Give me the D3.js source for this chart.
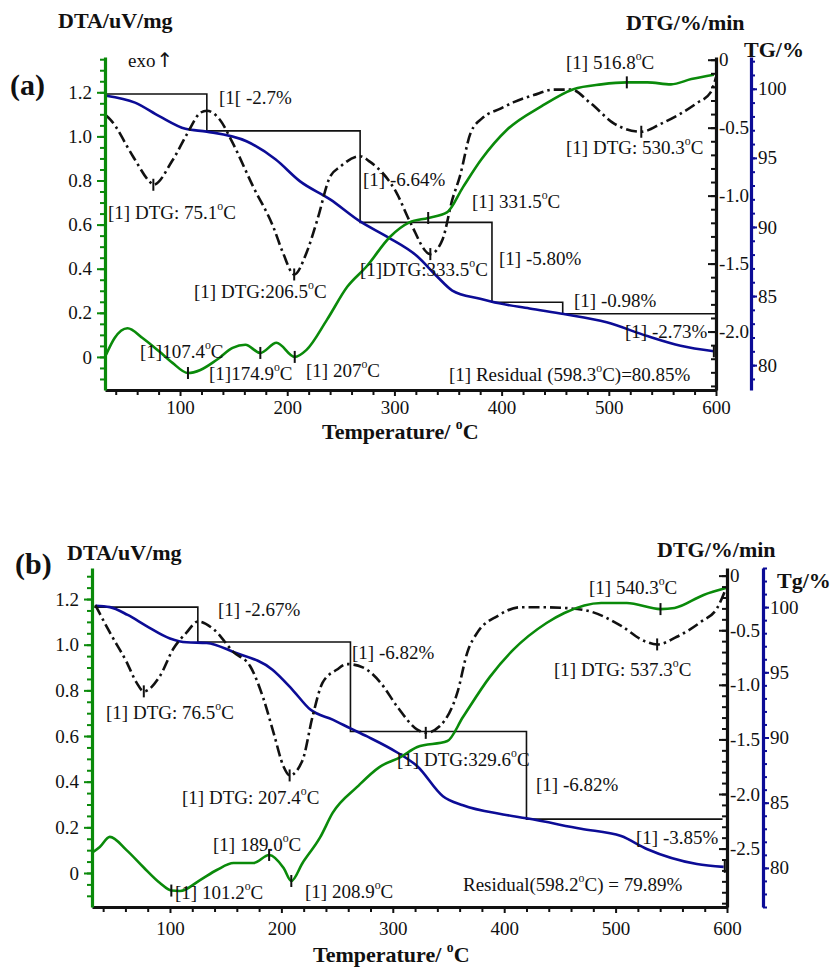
<!DOCTYPE html>
<html>
<head>
<meta charset="utf-8">
<script src="https://cdn.jsdelivr.net/npm/d3@7"></script>
<style>
body { margin: 0; background: #fff; }
svg { display: block; font-family: "Liberation Serif", "Times New Roman", serif; }
</style>
</head>
<body>
<svg width="834" height="969"></svg>
<script>
// ---- panel (a) data ----
var tgTempA = [31, 58, 81, 105, 125, 162, 189, 212, 240, 268, 293, 321, 340, 354, 380, 390, 426, 458, 498, 536, 567, 598];
var tgA     = [99.5, 99.0, 98.0, 97.1, 96.9, 96.2, 94.9, 93.3, 92.0, 90.4, 89.3, 87.9, 86.4, 85.4, 84.8, 84.6, 84.1, 83.7, 83.1, 82.1, 81.4, 81.0];

var dtgTempA = [31, 35, 56, 72, 75.1, 93, 107, 119, 125, 137, 149, 168, 187, 196, 206.5, 218, 228, 240, 249, 268, 277, 302, 315, 333.5, 345, 354, 361, 371, 382, 399, 412, 430, 449, 465, 483, 505, 530.3, 549, 582, 595, 600];
var dtgA     = [-0.41, -0.44, -0.71, -0.90, -0.92, -0.74, -0.54, -0.39, -0.375, -0.44, -0.61, -0.93, -1.23, -1.42, -1.58, -1.42, -1.18, -0.86, -0.79, -0.71, -0.75, -0.98, -1.20, -1.43, -1.32, -1.03, -0.86, -0.54, -0.43, -0.36, -0.31, -0.26, -0.22, -0.22, -0.32, -0.47, -0.53, -0.47, -0.32, -0.24, -0.13];

var dtaTempA = [31, 39, 51, 65, 81, 93, 107.4, 119, 134, 149, 161, 174.9, 190, 207, 218, 237, 256, 274, 296, 314, 331.5, 349, 364, 381, 405, 437, 467, 493, 516.8, 536, 558, 577, 598];
var dtaA     = [0.01, 0.086, 0.13, 0.086, 0.023, -0.027, -0.073, -0.059, -0.014, 0.041, 0.055, 0.018, 0.064, 0.0, 0.032, 0.168, 0.318, 0.41, 0.545, 0.61, 0.63, 0.655, 0.77, 0.895, 1.03, 1.136, 1.214, 1.236, 1.245, 1.245, 1.236, 1.26, 1.28];

var stepTempA = [31, 125, 268, 391, 457, 600];
var stepTgA   = [99.62, 96.95, 90.33, 84.55, 83.72];

var dtgPeaksA = [75.1, 206.5, 333.5, 530.3];
var dtaPeaksA = [107.4, 174.9, 207, 331.5, 516.8];
var tgEndA = 598;

// ---- panel (b) data ----
var tgTempB = [33, 46, 62, 79, 100, 115, 133, 157, 192, 210, 226, 246, 262, 277, 304, 322, 345, 363, 399, 420, 469, 505, 528, 573, 597];
var tgB     = [100.1, 100.0, 99.4, 98.55, 97.6, 97.3, 97.25, 96.56, 95.2, 93.66, 92.14, 91.37, 90.7, 90.08, 88.85, 87.8, 85.5, 84.8, 84.1, 83.8, 83.0, 82.44, 81.45, 80.3, 80.08];

var dtgTempB = [33, 46, 61, 70, 76.5, 91, 103, 115, 125, 139, 157, 172, 184, 193, 202, 207.4, 219, 228, 237, 250, 259, 273, 289, 304, 322, 329.6, 342, 358, 367, 376, 394, 414, 438, 460, 478, 505, 526, 537.3, 555, 577, 591, 599];
var dtgB     = [-0.27, -0.52, -0.79, -0.98, -1.06, -0.92, -0.67, -0.52, -0.42, -0.49, -0.70, -0.83, -1.13, -1.44, -1.75, -1.83, -1.69, -1.29, -0.98, -0.86, -0.81, -0.84, -0.98, -1.20, -1.41, -1.44, -1.38, -1.07, -0.70, -0.52, -0.37, -0.29, -0.29, -0.30, -0.33, -0.46, -0.60, -0.63, -0.56, -0.42, -0.30, -0.12];

var dtaTempB = [31, 37, 46, 61, 76, 91, 101.2, 109, 127, 142, 157, 175, 189, 202, 208.9, 219, 235, 246, 268, 288, 307, 322, 349, 363, 387, 408, 438, 454, 487, 510, 540.3, 553, 579, 599];
var dtaB     = [0.092, 0.114, 0.158, 0.10, 0.026, -0.044, -0.077, -0.079, -0.031, 0.013, 0.044, 0.044, 0.079, 0.022, -0.035, 0.044, 0.158, 0.263, 0.377, 0.464, 0.508, 0.552, 0.578, 0.683, 0.858, 0.977, 1.095, 1.139, 1.183, 1.183, 1.156, 1.161, 1.218, 1.248];

var stepTempB = [32, 125, 262, 420, 596];
var stepTgB   = [100.0, 97.33, 90.46, 83.74];

var dtgPeaksB = [76.5, 207.4, 329.6, 537.3];
var dtaPeaksB = [101.2, 189.0, 208.9, 540.3];
var tgEndB = 598;

var xTicks = [100, 200, 300, 400, 500, 600];
var dtaTicks = [0, 0.2, 0.4, 0.6, 0.8, 1.0, 1.2];
var tgTicks = [80, 85, 90, 95, 100];

var green = '#0a8a0a', blue = '#0c0c96';

var svg = d3.select('svg');

var panels = [
    {
        name: '(a)', nameXY: [10, 95],
        xRange: [105, 716], top: 57, bottom: 390,
        dtaDomain: [-0.15, 1.36], dtgDomain: [-2.43, 0.02], tgDomain: [78.2, 102.3], tgX: 751,
        dtgTicks: [0, -0.5, -1.0, -1.5, -2.0],
        tg: [tgTempA, tgA], dtg: [dtgTempA, dtgA], dta: [dtaTempA, dtaA],
        step: [stepTempA, stepTgA], dtgPeaks: dtgPeaksA, dtaPeaks: dtaPeaksA, tgEnd: tgEndA,
        labelPad: 5, titleXY: [322, 439],
        heads: [['DTA/uV/mg', 58, 28], ['DTG/%/min', 626, 30], ['TG/%', 744, 57]],
        notes: [
            ['[1[ -2.7%', 219, 104],
            ['[1] -6.64%', 363, 186],
            ['[1] DTG: 75.1°C', 108, 219],
            ['[1] DTG:206.5°C', 194, 298],
            ['[1]DTG:333.5°C', 360, 276],
            ['[1] 331.5°C', 472, 208],
            ['[1] -5.80%', 499, 265],
            ['[1] -0.98%', 574, 307],
            ['[1] -2.73%', 625, 338],
            ['[1] Residual (598.3°C)=80.85%', 449, 381],
            ['[1] 516.8°C', 566, 69],
            ['[1] DTG: 530.3°C', 566, 154],
            ['[1]107.4°C', 140, 358],
            ['[1]174.9°C', 209, 380],
            ['[1] 207°C', 306, 377]
        ]
    },
    {
        name: '(b)', nameXY: [15, 574],
        xRange: [92, 727], top: 568, bottom: 907,
        dtaDomain: [-0.149, 1.336], dtgDomain: [-3.035, 0.07], tgDomain: [77.0, 103.0], tgX: 763,
        dtgTicks: [0, -0.5, -1.0, -1.5, -2.0, -2.5],
        tg: [tgTempB, tgB], dtg: [dtgTempB, dtgB], dta: [dtaTempB, dtaB],
        step: [stepTempB, stepTgB], dtgPeaks: dtgPeaksB, dtaPeaks: dtaPeaksB, tgEnd: tgEndB,
        labelPad: 9, titleXY: [313, 962],
        heads: [['DTA/uV/mg', 67, 560], ['DTG/%/min', 657, 557], ['Tg/%', 777, 588]],
        notes: [
            ['[1] -2.67%', 218, 616],
            ['[1] -6.82%', 352, 659],
            ['[1] DTG: 76.5°C', 106, 719],
            ['[1] DTG: 207.4°C', 182, 804],
            ['[1] DTG:329.6°C', 397, 766],
            ['[1] -6.82%', 536, 791],
            ['[1] -3.85%', 636, 844],
            ['Residual(598.2°C) = 79.89%', 463, 891],
            ['[1] 540.3°C', 589, 594],
            ['[1] DTG: 537.3°C', 554, 676],
            ['[1] 189.0°C', 213, 851],
            ['[1] 101.2°C', 175, 899],
            ['[1] 208.9°C', 305, 898]
        ]
    }
];

panels.forEach(drawPanel);

// "exo" with its arrow, panel (a) only
var exo = svg.append('text')
    .attr('x', 128).attr('y', 67)
    .attr('font-size', 19).attr('fill', '#111');
exo.append('tspan').text('exo');
exo.append('tspan')
    .attr('font-family', '"DejaVu Sans", sans-serif')
    .attr('font-size', 20).attr('dx', 1).attr('fill', '#111')
    .text('\u2191');

// text with superscript "o" for the degree sign
function addText(g, str, x, y, size, bold) {
    var t = g.append('text')
        .attr('x', x).attr('y', y)
        .attr('font-size', size)
        .attr('font-weight', bold ? 'bold' : 'normal')
        .attr('fill', '#111');
    str.split('°').forEach(function(part, i){
        if(i > 0){
            t.append('tspan').attr('dy', -size * 0.45).attr('font-size', size * 0.62).text('o');
            t.append('tspan').attr('dy', size * 0.45).text(part);
        } else {
            t.append('tspan').text(part);
        }
    });
    return t;
}

function valueAt(temps, vals, t){
    var i = d3.bisectLeft(temps, t);
    if(i <= 0) return vals[0];
    if(i >= temps.length) return vals[vals.length - 1];
    var f = (t - temps[i-1]) / (temps[i] - temps[i-1]);
    return vals[i-1] + f * (vals[i] - vals[i-1]);
}

function drawPanel(p){
    var g = svg.append('g');

    var x = d3.scaleLinear().domain([30, 600]).range(p.xRange);
    var yDta = d3.scaleLinear().domain(p.dtaDomain).range([p.bottom, p.top]);
    var yDtg = d3.scaleLinear().domain(p.dtgDomain).range([p.bottom, p.top]);
    var yTg = d3.scaleLinear().domain(p.tgDomain).range([p.bottom, p.top]);

    // TG step annotation lines
    var st = p.step[0], sv = p.step[1], pts = [];
    for(var i = 0; i < sv.length; i++){
        pts.push([x(st[i]), yTg(sv[i])]);
        pts.push([x(st[i+1]), yTg(sv[i])]);
    }
    g.append('path')
        .attr('d', d3.line()(pts))
        .attr('fill', 'none')
        .attr('stroke', '#111')
        .attr('stroke-width', 1.6);

    function curve(series, yScale){
        return d3.line()
            .x((d, i) => x(series[0][i]))
            .y(d => yScale(d))
            .curve(d3.curveMonotoneX)(series[1]);
    }

    g.append('path')
        .attr('d', curve(p.tg, yTg))
        .attr('fill', 'none').attr('stroke', blue).attr('stroke-width', 2.6);

    g.append('path')
        .attr('d', curve(p.dtg, yDtg))
        .attr('fill', 'none').attr('stroke', '#111').attr('stroke-width', 2.6)
        .attr('stroke-dasharray', '11,4,2.5,4');

    g.append('path')
        .attr('d', curve(p.dta, yDta))
        .attr('fill', 'none').attr('stroke', green).attr('stroke-width', 2.6);

    // small tick marks on the curves
    function mark(px, py){
        g.append('line')
            .attr('x1', px).attr('x2', px)
            .attr('y1', py - 6).attr('y2', py + 6)
            .attr('stroke', '#111').attr('stroke-width', 2);
    }
    p.dtgPeaks.forEach(t => mark(x(t), yDtg(valueAt(p.dtg[0], p.dtg[1], t))));
    p.dtaPeaks.forEach(t => mark(x(t), yDta(valueAt(p.dta[0], p.dta[1], t))));
    mark(x(p.tgEnd), yTg(valueAt(p.tg[0], p.tg[1], p.tgEnd)));

    function styleAxis(sel, color){
        sel.select('.domain').attr('stroke', color).attr('stroke-width', 3.2);
        sel.selectAll('.tick line').attr('stroke', color).attr('stroke-width', 2);
        sel.selectAll('.tick text').attr('fill', '#111').attr('font-size', 19)
            .attr('font-family', '"Liberation Serif", "Times New Roman", serif');
    }

    // x axis
    var xMinor = d3.range(2, 30).map(i => i * 20).filter(v => v % 100 !== 0);
    g.append('g')
        .attr('transform', `translate(0,${p.bottom})`)
        .call(d3.axisBottom(x).tickValues(xMinor).tickSize(5).tickFormat(''))
        .call(s => { s.select('.domain').remove(); s.selectAll('.tick line').attr('stroke', '#111').attr('stroke-width', 2); });
    g.append('g')
        .attr('transform', `translate(0,${p.bottom})`)
        .call(d3.axisBottom(x).tickValues(xTicks).tickSize(6).tickSizeOuter(0).tickPadding(p.labelPad))
        .call(s => styleAxis(s, '#111'));

    // DTA axis (left, green)
    var x0 = p.xRange[0], x1 = p.xRange[1];
    var dtaMinor = d3.range(-3, 28).map(i => i * 0.05).filter(v => v >= p.dtaDomain[0] && v <= p.dtaDomain[1]);
    g.append('g')
        .attr('transform', `translate(${x0},0)`)
        .call(d3.axisLeft(yDta).tickValues(dtaMinor).tickSize(5).tickFormat(''))
        .call(s => { s.select('.domain').remove(); s.selectAll('.tick line').attr('stroke', green).attr('stroke-width', 2); });
    g.append('g')
        .attr('transform', `translate(${x0},0)`)
        .call(d3.axisLeft(yDta).tickValues(dtaTicks).tickSize(8).tickSizeOuter(0).tickPadding(5)
            .tickFormat(d => d === 0 ? '0' : d3.format('.1f')(d)))
        .call(s => styleAxis(s, green));

    // DTG axis (right, black), ticks pointing inward
    var dtgMinor = d3.range(0, 31).map(i => -i * 0.1).filter(v => v >= p.dtgDomain[0]);
    g.append('g')
        .attr('transform', `translate(${x1},0)`)
        .call(d3.axisRight(yDtg).tickValues(dtgMinor).tickSize(-5).tickFormat(''))
        .call(s => { s.select('.domain').remove(); s.selectAll('.tick line').attr('stroke', '#111').attr('stroke-width', 2); });
    g.append('g')
        .attr('transform', `translate(${x1},0)`)
        .call(d3.axisRight(yDtg).tickValues(p.dtgTicks).tickSize(-8).tickSizeOuter(0).tickPadding(3)
            .tickFormat(d => d === 0 ? '0' : d3.format('.1f')(d).replace('\u2212', '-')))
        .call(s => styleAxis(s, '#111'));

    // TG axis (right, blue)
    var tgMinor = d3.range(Math.ceil(p.tgDomain[0]), Math.floor(p.tgDomain[1]) + 1);
    g.append('g')
        .attr('transform', `translate(${p.tgX},0)`)
        .call(d3.axisRight(yTg).tickValues(tgMinor).tickSize(4).tickFormat(''))
        .call(s => { s.select('.domain').remove(); s.selectAll('.tick line').attr('stroke', blue).attr('stroke-width', 2); });
    g.append('g')
        .attr('transform', `translate(${p.tgX},0)`)
        .call(d3.axisRight(yTg).tickValues(tgTicks).tickSize(6).tickSizeOuter(0).tickPadding(1))
        .call(s => styleAxis(s, blue));

    // titles
    addText(g, p.name, p.nameXY[0], p.nameXY[1], 30, true);
    p.heads.forEach(h => addText(g, h[0], h[1], h[2], 22, true));
    addText(g, 'Temperature/ °C', p.titleXY[0], p.titleXY[1], 22, true);

    // annotations
    p.notes.forEach(n => addText(g, n[0], n[1], n[2], 19, false));
}
</script>
</body>
</html>
